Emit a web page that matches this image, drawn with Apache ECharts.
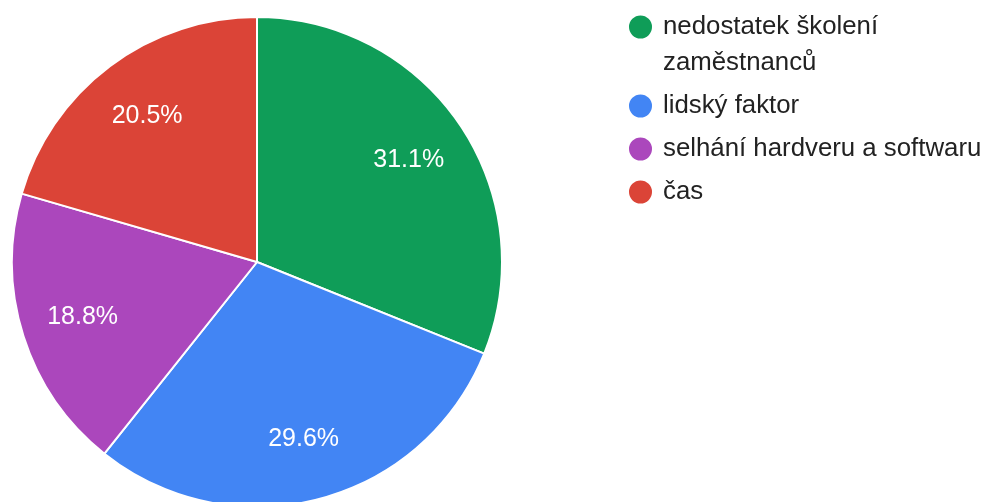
<!DOCTYPE html>
<html>
<head>
<meta charset="utf-8">
<script src="https://cdn.jsdelivr.net/npm/echarts@6/dist/echarts.min.js"></script>
<style>
html,body{margin:0;padding:0;background:#fff;}
#chart{width:984px;height:502px;}
</style>
</head>
<body>
<div id="chart"></div>
<script>
const categories = ['nedostatek školení zaměstnanců', 'lidský faktor', 'selhání hardveru a softwaru', 'čas'];
const legendLabels = ['nedostatek školení\nzaměstnanců', 'lidský faktor', 'selhání hardveru a softwaru', 'čas'];
const values = [31.1, 29.6, 18.8, 20.5];
const colors = ['#0f9d58', '#4285f4', '#ab47bc', '#db4437'];

const pieData = categories.map((name, i) => ({ name: name, value: values[i], itemStyle: { color: colors[i] } }));
const labelData = categories.map((name, i) => ({ name: name, value: values[i] }));

const FONT = '"Liberation Sans", Arial, sans-serif';

const chart = echarts.init(document.getElementById('chart'), null, { renderer: 'canvas' });
chart.setOption({
  backgroundColor: '#ffffff',
  animation: false,
  legend: {
    orient: 'vertical',
    left: 627,
    top: -27,
    padding: 0,
    itemWidth: 25,
    itemHeight: 25,
    itemGap: 7,
    icon: 'circle',
    selectedMode: false,
    textStyle: { fontFamily: FONT, fontSize: 25.8, color: '#222', lineHeight: 36, padding: [0, 0, 0, 5] },
    formatter: function (name) {
      const i = categories.indexOf(name);
      const txt = legendLabels[i];
      // multi-line entry: a blank first line keeps the icon beside the first text line
      return txt.indexOf('\n') >= 0 ? '\n' + txt : txt;
    },
    data: categories
  },
  series: [
    {
      type: 'pie',
      center: [257, 262],
      radius: 245,
      startAngle: 90,
      clockwise: true,
      silent: true,
      label: { show: false },
      labelLine: { show: false },
      itemStyle: { borderColor: '#ffffff', borderWidth: 2 },
      emphasis: { disabled: true },
      data: pieData
    },
    {
      type: 'pie',
      center: [257, 262],
      radius: [115, 245],
      startAngle: 90,
      clockwise: true,
      silent: true,
      itemStyle: { color: 'rgba(0,0,0,0)', borderWidth: 0 },
      label: {
        show: true,
        position: 'inside',
        formatter: '{c}%',
        color: '#ffffff',
        fontFamily: FONT,
        fontSize: 25
      },
      labelLine: { show: false },
      emphasis: { disabled: true },
      data: labelData
    }
  ]
});
</script>
</body>
</html>
